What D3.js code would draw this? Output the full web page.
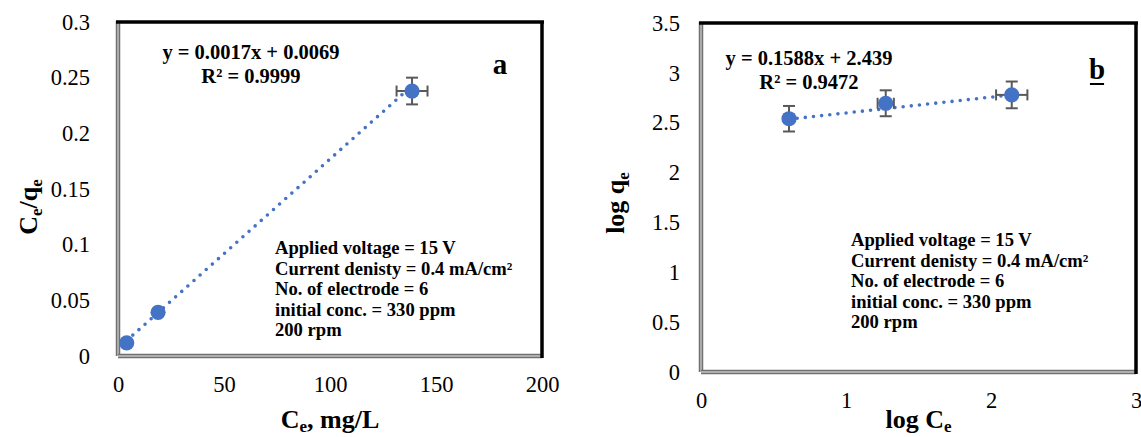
<!DOCTYPE html>
<html>
<head>
<meta charset="utf-8">
<script src="https://cdn.jsdelivr.net/npm/d3@7/dist/d3.min.js"></script>
<style>
  html, body { margin: 0; padding: 0; background: #ffffff; }
  svg { display: block; }
</style>
</head>
<body>
<svg id="chart" width="1141" height="437"></svg>
<script>
// ---- Panel a: Langmuir linear form (Ce/qe vs Ce) ----
const ceA = [4.1, 18.9, 138.7];
const ceQeA = [0.0117, 0.0392, 0.238];
const ceErrA = [0, 0, 7.3];
const ceQeErrA = [0, 0, 0.012];
const fitA = { slope: 0.0017, intercept: 0.0069 };
const xTicksA = [0, 50, 100, 150, 200];
const xTickLabelsA = ["0", "50", "100", "150", "200"];
const yTicksA = [0, 0.05, 0.1, 0.15, 0.2, 0.25, 0.3];
const yTickLabelsA = ["0", "0.05", "0.1", "0.15", "0.2", "0.25", "0.3"];
const eqTextA = ["y = 0.0017x + 0.0069", "R² = 0.9999"];

// ---- Panel b: Freundlich linear form (log qe vs log Ce) ----
const logCeB = [0.607, 1.274, 2.143];
const logQeB = [2.540, 2.695, 2.779];
const logCeErrB = [0.03, 0.056, 0.108];
const logQeErrB = [0.128, 0.13, 0.134];
const fitB = { slope: 0.1588, intercept: 2.439 };
const xTicksB = [0, 1, 2, 3];
const xTickLabelsB = ["0", "1", "2", "3"];
const yTicksB = [0, 0.5, 1, 1.5, 2, 2.5, 3, 3.5];
const yTickLabelsB = ["0", "0.5", "1", "1.5", "2", "2.5", "3", "3.5"];
const eqTextB = ["y = 0.1588x + 2.439", "R² = 0.9472"];

// Experimental conditions shown in both panels
const conditions = [
  "Applied voltage = 15 V",
  "Current denisty = 0.4 mA/cm²",
  "No. of electrode = 6",
  "initial conc. = 330 ppm",
  "200 rpm"
];

const FONT = "'Liberation Serif', 'Times New Roman', serif";
const BLUE = "#4472C4";
const ERR = "#595959";

const svg = d3.select("#chart");

function drawPanel(p) {
  const g = svg.append("g");
  const x = d3.scaleLinear().domain(p.xDomain).range(p.xRange);
  const y = d3.scaleLinear().domain(p.yDomain).range(p.yRange);
  const [x0, x1] = p.xRange;
  const [y0, y1] = p.yRange;

  // axes (labels only, no tick marks)
  const xAxis = d3.axisBottom(x).tickValues(p.xTicks)
    .tickFormat((d, i) => p.xTickLabels[i]).tickSize(0).tickPadding(p.xPad);
  const yAxis = d3.axisLeft(y).tickValues(p.yTicks)
    .tickFormat((d, i) => p.yTickLabels[i]).tickSize(0).tickPadding(p.yPad);

  const gx = g.append("g").attr("transform", `translate(0,${y0})`).call(xAxis);
  const gy = g.append("g").attr("transform", `translate(${x0},0)`).call(yAxis);
  [gx, gy].forEach(a => {
    a.select(".domain").remove();
    a.selectAll("text").attr("font-family", FONT).attr("font-size", 22.5).attr("fill", "#000");
  });

  // plot-area frame: grey double line left/bottom, black top/right
  const frame = g.append("g");
  [[x0, y1 - 1, x0, y0], [x0, y0, x1, y0]].forEach(([a, b, c, d]) => {
    frame.append("line").attr("x1", a).attr("y1", b).attr("x2", c).attr("y2", d)
      .attr("stroke", "#707070").attr("stroke-width", 4.5);
    frame.append("line").attr("x1", a).attr("y1", b).attr("x2", c).attr("y2", d)
      .attr("stroke", "#c4c4c4").attr("stroke-width", 1.4);
  });
  frame.append("line").attr("x1", x0 - 2).attr("y1", y1).attr("x2", x1 + 2).attr("y2", y1)
    .attr("stroke", "#000").attr("stroke-width", 3.5);
  frame.append("line").attr("x1", x1).attr("y1", y1).attr("x2", x1).attr("y2", y0 + 2)
    .attr("stroke", "#000").attr("stroke-width", 3.5);

  // dotted linear trendline over the data range
  const xs = d3.extent(p.xs);
  g.append("line")
    .attr("x1", x(xs[0])).attr("y1", y(p.fit.slope * xs[0] + p.fit.intercept))
    .attr("x2", x(xs[1])).attr("y2", y(p.fit.slope * xs[1] + p.fit.intercept))
    .attr("stroke", BLUE).attr("stroke-width", 3.6)
    .attr("stroke-linecap", "round").attr("stroke-dasharray", "0 8.2");

  // error bars
  const eb = g.append("g").attr("stroke", ERR).attr("stroke-width", 2);
  p.xs.forEach((xv, i) => {
    const yv = p.ys[i];
    const ey = p.yErr[i], ex = p.xErr[i];
    if (ey > 0) {
      eb.append("line").attr("x1", x(xv)).attr("x2", x(xv)).attr("y1", y(yv - ey)).attr("y2", y(yv + ey));
      [yv - ey, yv + ey].forEach(v => eb.append("line")
        .attr("x1", x(xv) - 6).attr("x2", x(xv) + 6).attr("y1", y(v)).attr("y2", y(v)));
    }
    if (ex > 0) {
      eb.append("line").attr("y1", y(yv)).attr("y2", y(yv)).attr("x1", x(xv - ex)).attr("x2", x(xv + ex));
      [xv - ex, xv + ex].forEach(v => eb.append("line")
        .attr("y1", y(yv) - 5.5).attr("y2", y(yv) + 5.5).attr("x1", x(v)).attr("x2", x(v)));
    }
  });

  // markers
  g.append("g").selectAll("circle").data(p.xs).join("circle")
    .attr("cx", d => x(d)).attr("cy", (d, i) => y(p.ys[i]))
    .attr("r", 7.6).attr("fill", BLUE);

  // regression equation
  const eq = g.append("text").attr("font-family", FONT).attr("font-weight", "bold")
    .attr("font-size", 20.5).attr("text-anchor", "middle");
  eq.append("tspan").attr("x", p.eqX).attr("y", p.eqY).text(p.eqText[0]);
  eq.append("tspan").attr("x", p.eqX).attr("y", p.eqY + 24).text(p.eqText[1]);

  // conditions block
  const info = g.append("text").attr("font-family", FONT).attr("font-weight", "bold")
    .attr("font-size", 18.6);
  conditions.forEach((t, i) => info.append("tspan")
    .attr("x", p.infoX).attr("y", p.infoY + i * 20.6).text(t));

  // panel letter
  const letter = g.append("text").attr("font-family", FONT).attr("font-weight", "bold")
    .attr("font-size", 29).attr("text-anchor", "middle")
    .attr("x", p.letterX).attr("y", p.letterY).text(p.letter);
  if (p.underline) {
    const bb = letter.node().getBBox();
    g.append("line").attr("x1", bb.x + 1).attr("x2", bb.x + bb.width - 1)
      .attr("y1", p.letterY + 5).attr("y2", p.letterY + 5)
      .attr("stroke", "#000").attr("stroke-width", 2);
  }

  // x-axis title
  const xt = g.append("text").attr("font-family", FONT).attr("font-weight", "bold")
    .attr("font-size", 26).attr("text-anchor", "middle")
    .attr("x", (x0 + x1) / 2).attr("y", p.xTitleY);
  p.xTitle.forEach(s => {
    const t = xt.append("tspan").text(s.t);
    if (s.sub) t.attr("font-size", 17).attr("dy", 4);
    else if (s.after) t.attr("dy", -4);
  });

  // y-axis title (rotated)
  const yt = g.append("text").attr("font-family", FONT).attr("font-weight", "bold")
    .attr("font-size", 26).attr("text-anchor", "middle")
    .attr("transform", `translate(${p.yTitleX},${p.yTitleY}) rotate(-90)`);
  p.yTitle.forEach(s => {
    const t = yt.append("tspan").text(s.t);
    if (s.sub) t.attr("font-size", 17).attr("dy", 5);
    else if (s.after) t.attr("dy", -5);
  });
}

drawPanel({
  xDomain: [0, 200], yDomain: [0, 0.3],
  xRange: [118, 542], yRange: [356, 22],
  xTicks: xTicksA, xTickLabels: xTickLabelsA, yTicks: yTicksA, yTickLabels: yTickLabelsA,
  xPad: 20, yPad: 28,
  xs: ceA, ys: ceQeA, xErr: ceErrA, yErr: ceQeErrA, fit: fitA,
  eqText: eqTextA, eqX: 251, eqY: 59,
  infoX: 275, infoY: 254,
  letter: "a", letterX: 500, letterY: 74, underline: false,
  xTitle: [{ t: "C" }, { t: "e", sub: true }, { t: ", mg/L", after: true }], xTitleY: 428,
  yTitle: [{ t: "C" }, { t: "e", sub: true }, { t: "/q", after: true }, { t: "e", sub: true }],
  yTitleX: 37, yTitleY: 207
});

drawPanel({
  xDomain: [0, 3], yDomain: [0, 3.5],
  xRange: [701, 1136], yRange: [372, 23],
  xTicks: xTicksB, xTickLabels: xTickLabelsB, yTicks: yTicksB, yTickLabels: yTickLabelsB,
  xPad: 20, yPad: 21,
  xs: logCeB, ys: logQeB, xErr: logCeErrB, yErr: logQeErrB, fit: fitB,
  eqText: eqTextB, eqX: 809, eqY: 65,
  infoX: 851, infoY: 246,
  letter: "b", letterX: 1097, letterY: 79, underline: true,
  xTitle: [{ t: "log C" }, { t: "e", sub: true }], xTitleY: 428,
  yTitle: [{ t: "log q" }, { t: "e", sub: true }],
  yTitleX: 624, yTitleY: 203
});
</script>
</body>
</html>
